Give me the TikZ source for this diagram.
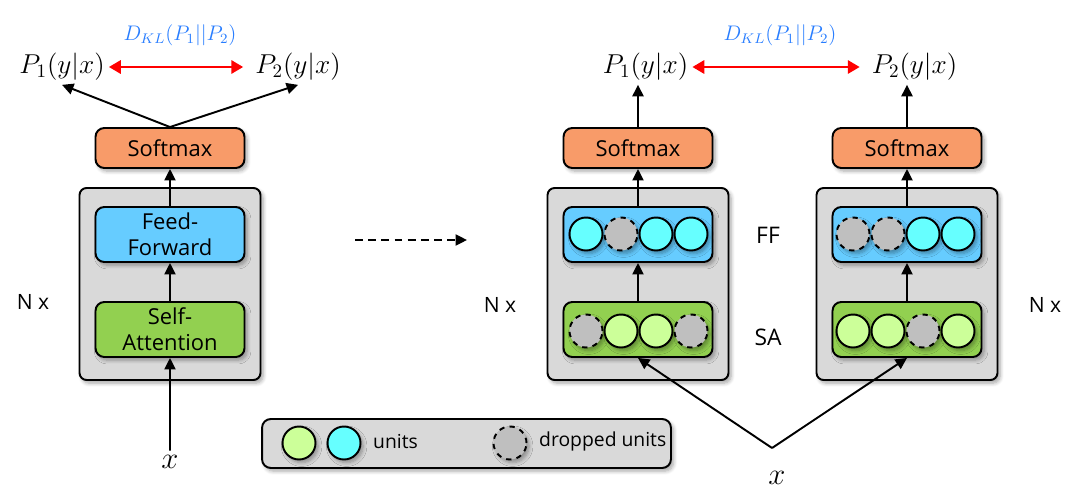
\documentclass[tikz,border=0pt]{standalone}
\usepackage{fontspec}
\setmainfont{Open Sans}
\usetikzlibrary{arrows.meta,positioning,calc,shadows.blur}

\definecolor{smorange}{RGB}{248,155,105}
\definecolor{ffblue}{RGB}{102,204,255}
\definecolor{sagreen}{RGB}{146,208,80}
\definecolor{blockgray}{RGB}{217,217,217}
\definecolor{unitgreen}{RGB}{204,255,153}
\definecolor{unitcyan}{RGB}{102,255,255}
\definecolor{dropgray}{RGB}{191,191,191}
\definecolor{klblue}{RGB}{40,125,255}

\begin{document}
\begin{tikzpicture}[x=0.02cm,y=-0.02cm,
	shade/.style={blur shadow={shadow xshift=1.5pt,shadow yshift=-1.8pt,shadow blur steps=6,shadow opacity=35}},
	block/.style={draw,line width=1.1pt,rounded corners=4pt,fill=blockgray,minimum width=3.62cm,minimum height=3.84cm,shade},
	layer/.style={draw,line width=1.1pt,rounded corners=5pt,minimum width=2.98cm,minimum height=1.1cm,align=center,inner sep=1pt,font=\fontsize{12.5}{15}\selectfont,shade},
	softmax/.style={layer,fill=smorange,minimum height=0.8cm},
	ff/.style={layer,fill=ffblue},
	sa/.style={layer,fill=sagreen},
	unit/.style={circle,draw,line width=1.1pt,minimum size=0.66cm,inner sep=0pt,shade},
	greenu/.style={unit,fill=unitgreen},
	cyanu/.style={unit,fill=unitcyan},
	dropu/.style={unit,fill=dropgray,dashed},
	prob/.style={inner sep=2pt,scale=1.08,font=\fontsize{14.4}{17}\selectfont},
	lbl/.style={font=\fontsize{12}{14}\selectfont},
	flow/.style={line width=1.1pt,-{Triangle[length=6.5pt,width=6.3pt]}},
	kl/.style={draw=red,line width=1.7pt,shorten >=4.5pt,{Triangle[length=6.8pt,width=7.4pt]}-{Triangle[length=6.8pt,width=7.4pt]}},
	dkl/.style={above=8pt,text=klblue,font=\fontsize{11.5}{14}\selectfont}]
	\useasboundingbox (0,0) rectangle (1085,497);

	% left: one pass
	\node[block] (blk0) at (170,284) {};
	\node[sa] (sa0) at (170,329.5) {Self-\\Attention};
	\node[ff] (ff0) at (170,234.5) {Feed-\\Forward};
	\node[softmax] (sm0) at (170,148) {Softmax};
	\node[prob] (p1a) at (62,67) {$P_1(y|x)$};
	\node[prob] (p2a) at (298,67) {$P_2(y|x)$};
	\node[prob,scale=1.12] (x0) at (170,462) {$x$};
	\node[lbl] (nx0) at (33,302) {N x};

	\path (p1a) edge[kl] node[dkl] {$D_{KL}(P_1||P_2)$} (p2a);
	\draw[flow] (x0) -- (sa0);
	\draw[flow] (sa0) -- (ff0);
	\draw[flow] (ff0) -- (sm0);
	\draw[flow] (sm0.north) -- (p1a.south);
	\draw[flow] (sm0.north) -- (p2a.south);

	\coordinate (d0) at (355,240);
	\coordinate (d1) at (467,240);
	\draw[flow,dashed,dash pattern=on 4.5pt off 3pt] (d0) -- (d1);

	% right: two passes with dropout
	\node[block] (blk1) at (638,284) {};
	\node[block] (blk2) at (907,284) {};
	\node[sa] (sa1) at (638,329.5) {};
	\node[sa] (sa2) at (907,329.5) {};
	\node[ff] (ff1) at (638,234.5) {};
	\node[ff] (ff2) at (907,234.5) {};
	\node[softmax] (sm1) at (638,148) {Softmax};
	\node[softmax] (sm2) at (907,148) {Softmax};

	\foreach \s [count=\i] in {cyanu,dropu,cyanu,cyanu}
		\node[\s] (fa\i) at (551+35*\i,234) {};
	\foreach \s [count=\i] in {dropu,greenu,greenu,dropu}
		\node[\s] (sa\i a) at (551+35*\i,331) {};
	\foreach \s [count=\i] in {dropu,dropu,cyanu,cyanu}
		\node[\s] (fb\i) at (818+35*\i,234) {};
	\foreach \s [count=\i] in {greenu,greenu,dropu,greenu}
		\node[\s] (sa\i b) at (818+35*\i,331) {};

	\node[prob] (p1b) at (645.5,67) {$P_1(y|x)$};
	\node[prob] (p2b) at (914.5,67) {$P_2(y|x)$};
	\node[prob,scale=1.12] (x1) at (777,478) {$x$};
	\coordinate (fork) at (772,448);
	\node[lbl,font=\fontsize{13}{15}\selectfont] (ffl) at (768,235) {FF};
	\node[lbl,font=\fontsize{13}{15}\selectfont] (sal) at (768,337) {SA};
	\node[lbl] (nx1) at (500,305) {N x};
	\node[lbl] (nx2) at (1045,305) {N x};

	\path (p1b) edge[kl] node[dkl] {$D_{KL}(P_1||P_2)$} (p2b);
	\draw[flow] (sa1) -- (ff1);
	\draw[flow] (ff1) -- (sm1);
	\draw[flow] (sa2) -- (ff2);
	\draw[flow] (ff2) -- (sm2);
	\draw[flow] (sm1.north) -- (sm1.north |- p1b.south);
	\draw[flow] (sm2.north) -- (sm2.north |- p2b.south);
	\draw[flow] (fork) -- (sa1.south);
	\draw[flow] (fork) -- (sa2.south);

	% legend
	\node[block,rounded corners=5pt,minimum width=8.18cm,minimum height=0.98cm] (leg) at (466.5,443.5) {};
	\node[greenu] (lg1) at (299,443) {};
	\node[cyanu] (lg2) at (344,443) {};
	\node[lbl,font=\fontsize{11}{14}\selectfont,anchor=west] (lgt1) at (367,441) {units};
	\node[dropu] (lg3) at (510,443) {};
	\node[lbl,font=\fontsize{11}{14}\selectfont,anchor=west] (lgt2) at (533,441) {dropped units};
\end{tikzpicture}
\end{document}
